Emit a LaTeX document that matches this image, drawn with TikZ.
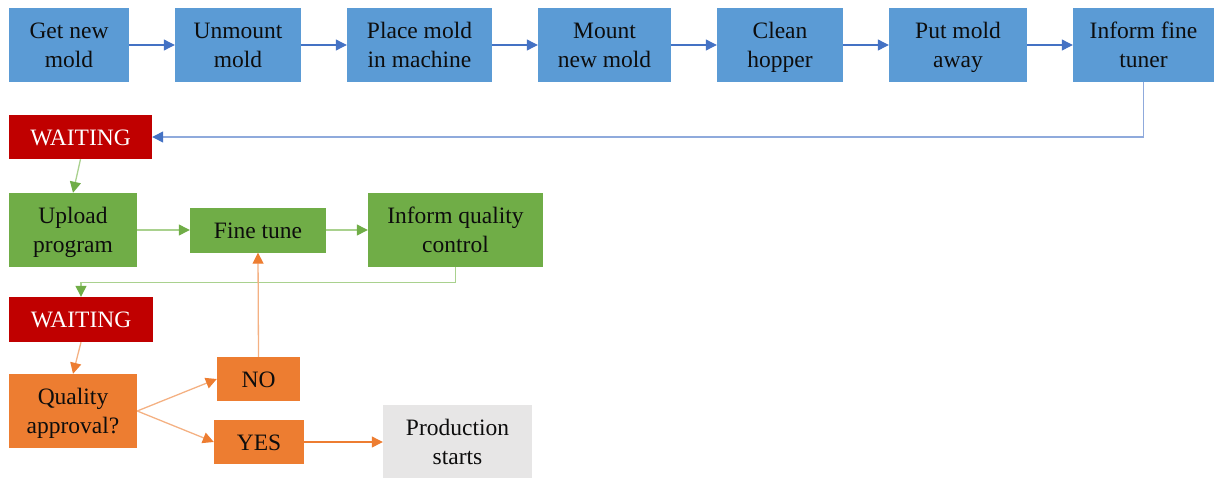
\documentclass[tikz,border=0pt]{standalone}
\usepackage{fontspec}
\setmainfont{Liberation Serif}
\usetikzlibrary{arrows.meta}

\definecolor{boxblue}{HTML}{5B9BD5}
\definecolor{lineblue}{HTML}{4472C4}
\definecolor{paleblue}{HTML}{8FAADC}
\definecolor{boxgreen}{HTML}{70AD47}
\definecolor{palegreen}{HTML}{A9D18E}
\definecolor{boxred}{HTML}{C00000}
\definecolor{boxorange}{HTML}{ED7D31}
\definecolor{paleorange}{HTML}{F4B183}
\definecolor{boxgrey}{HTML}{E7E6E6}
\definecolor{ink}{HTML}{0D0D0D}

% line strut: sets the height and depth of every text line alike
\newcommand{\ls}{\rule[-5.5pt]{0pt}{27.5pt}}

\begin{document}
\begin{tikzpicture}[x=1pt,y=-1pt,
  stepbox/.style={draw=none, align=center, inner sep=0pt, text=ink,
    font=\fontsize{23.5}{29}\selectfont},
  bluebox/.style={stepbox, fill=boxblue, minimum height=74pt},
  greenbox/.style={stepbox, fill=boxgreen},
  redbox/.style={stepbox, fill=boxred, text=white, minimum height=44pt},
  orangebox/.style={stepbox, fill=boxorange},
  greybox/.style={stepbox, fill=boxgrey},
  tip/.style={-{Triangle[length=11pt,width=11pt,color=#1]}},
  blueflow/.style={draw=lineblue, line width=1.1pt, tip=lineblue},
  bluereturn/.style={draw=paleblue, line width=1.3pt, tip=lineblue},
  greenflow/.style={draw=palegreen, line width=1.3pt, tip=boxgreen},
  orangeflow/.style={draw=paleorange, line width=1.3pt, tip=boxorange},
  orangesolid/.style={draw=boxorange, line width=1.2pt, tip=boxorange}
]
\useasboundingbox (0,0) rectangle (1214,477);

% mold change sequence
\node[bluebox, minimum width=120pt] (getmold)  at (69,45)     {\ls Get new\\\ls mold};
\node[bluebox, minimum width=126pt] (unmount)  at (238,45)    {\ls Unmount\\\ls mold};
\node[bluebox, minimum width=145pt] (place)    at (419.5,45)  {\ls Place mold\\\ls in machine};
\node[bluebox, minimum width=133pt] (mount)    at (604.5,45)  {\ls Mount\\\ls new mold};
\node[bluebox, minimum width=126pt] (clean)    at (780,45)    {\ls Clean\\\ls hopper};
\node[bluebox, minimum width=138pt] (putaway)  at (958,45)    {\ls Put mold\\\ls away};
\node[bluebox, minimum width=141pt] (informft) at (1143.5,45) {\ls Inform fine\\\ls tuner};

% fine tuning
\node[redbox, minimum width=143pt] (wait1) at (80.5,137) {\ls WAITING};
\node[greenbox, minimum width=128pt, minimum height=74pt] (upload)   at (73,230)    {\ls Upload\\\ls program};
\node[greenbox, minimum width=136pt, minimum height=45pt] (finetune) at (258,230)   {\ls Fine tune};
\node[greenbox, minimum width=175pt, minimum height=74pt] (informqc) at (455.5,230) {\ls Inform quality\\\ls control};

% quality check
\node[redbox, minimum width=144pt, minimum height=45pt] (wait2) at (81,319.5) {\ls WAITING};
\node[orangebox, minimum width=128pt, minimum height=74pt] (quality) at (73,411)    {\ls Quality\\\ls approval?};
\node[orangebox, minimum width=83pt, minimum height=44pt]  (no)      at (258.5,379) {\ls NO};
\node[orangebox, minimum width=90pt, minimum height=44pt]  (yes)     at (259,442)   {\ls YES};
\node[greybox, minimum width=149pt, minimum height=74pt]   (prod)    at (457.5,442) {\ls Production\\\ls starts};

% connectors
\draw[blueflow] (getmold) -- (unmount);
\draw[blueflow] (unmount) -- (place);
\draw[blueflow] (place) -- (mount);
\draw[blueflow] (mount) -- (clean);
\draw[blueflow] (clean) -- (putaway);
\draw[blueflow] (putaway) -- (informft);
\draw[bluereturn] (informft.south) |- (wait1.east);

\draw[greenflow] (wait1.south) -- (upload.north);
\draw[greenflow] (upload.east |- finetune.west) -- (finetune.west);
\draw[greenflow] (finetune.east) -- (informqc.west |- finetune.east);
\draw[greenflow] (informqc.south) -- ++(0,15) -| (wait2.north);

\draw[orangeflow] (wait2.south) -- (quality.north);
\draw[orangeflow] (quality.east) -- (no.west);
\draw[orangeflow] (quality.east) -- (yes.west);
\draw[orangeflow] (no.north) -- (finetune.south);
\draw[orangesolid] (yes.east) -- (prod.west);
\end{tikzpicture}
\end{document}
